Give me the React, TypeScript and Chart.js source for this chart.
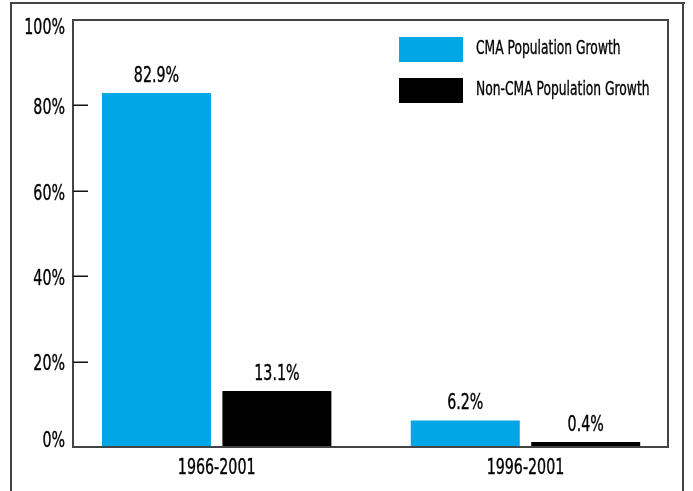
import React, { useEffect, useRef, useState } from 'react';
import { Chart, registerables } from 'chart.js';

Chart.register(...registerables);

const categories = ['1966-2001', '1996-2001'];
const seriesNames = ['CMA Population Growth', 'Non-CMA Population Growth'];
const cmaGrowth = [82.9, 6.2];
const nonCmaGrowth = [13.1, 0.4];
const yTickValues = [0, 20, 40, 60, 80, 100];
const seriesColors = ['#00A6E6', '#000000'];

const X_MIN = -0.4653;
const X_MAX = 1.4615;

const FONT = "'DejaVu Sans Condensed', 'DejaVu Sans', sans-serif";
const SQUEEZE = 0.72;
const TEXT = '#000000';
const FRAME = '#444444';

function drawNarrowText(
  ctx: CanvasRenderingContext2D,
  text: string,
  x: number,
  y: number,
  size: number,
  align: CanvasTextAlign
) {
  ctx.save();
  ctx.font = `${size}px ${FONT}`;
  ctx.textAlign = align;
  ctx.textBaseline = 'middle';
  ctx.fillStyle = TEXT;
  ctx.strokeStyle = TEXT;
  ctx.lineWidth = 0.35;
  ctx.scale(SQUEEZE, 1);
  ctx.fillText(text, x / SQUEEZE, y);
  ctx.strokeText(text, x / SQUEEZE, y);
  ctx.restore();
}

const decorPlugin = {
  id: 'decor',
  afterDraw(chart: any) {
    const ctx = chart.ctx as CanvasRenderingContext2D;
    const a = chart.chartArea;
    const yScale = chart.scales.y;
    const xScale = chart.scales.x;
    ctx.save();

    // outer frame (open at the bottom)
    ctx.fillStyle = FRAME;
    ctx.fillRect(10, 2, 675, 2);
    ctx.fillRect(10, 2, 2, chart.height);
    ctx.fillRect(682, 2, 2, chart.height);

    // plot frame
    ctx.strokeStyle = FRAME;
    ctx.lineWidth = 2;
    ctx.strokeRect(a.left, a.top, a.right - a.left, a.bottom - a.top);

    // inward tick marks
    ctx.strokeStyle = '#111';
    ctx.lineWidth = 1.5;
    yScale.ticks.forEach((t: any) => {
      if (t.value <= yScale.min || t.value >= yScale.max) return;
      const py = Math.round(yScale.getPixelForValue(t.value)) + 0.25;
      ctx.beginPath();
      ctx.moveTo(a.left, py);
      ctx.lineTo(a.left + 15, py);
      ctx.stroke();
    });
    ctx.restore();

    // y tick labels
    yScale.ticks.forEach((t: any) => {
      const py = yScale.getPixelForValue(t.value) + 3;
      const cy = Math.min(Math.max(py, a.top + 8), a.bottom - 6);
      drawNarrowText(ctx, `${t.value}%`, a.left - 8, cy, 22, 'right');
    });

    // x tick labels
    xScale.ticks.forEach((t: any) => {
      const px = xScale.getPixelForValue(t.value);
      drawNarrowText(ctx, categories[t.value], px, a.bottom + 21.5, 22, 'center');
    });

    // data labels
    chart.data.datasets.forEach((ds: any, di: number) => {
      const meta = chart.getDatasetMeta(di);
      meta.data.forEach((el: any, i: number) => {
        const v = ds.data[i].y;
        drawNarrowText(ctx, v.toFixed(1) + '%', el.x, el.y - 17, 22, 'center');
      });
    });

    // legend
    const lx = a.right - 269;
    const ly = a.top + 17;
    chart.data.datasets.forEach((ds: any, di: number) => {
      const top = ly + di * 41;
      ctx.save();
      ctx.fillStyle = ds.backgroundColor;
      ctx.fillRect(lx, top, 64, 25);
      ctx.restore();
      drawNarrowText(ctx, ds.label, lx + 77, top + 12, 19, 'left');
    });
  },
};

export default function App() {
  const ref = useRef<HTMLCanvasElement | null>(null);
  const [err, setErr] = useState('');

  useEffect(() => {
    if (!ref.current) return;
    let chart: any = null;
    try {
      chart = new Chart(ref.current, {
        type: 'bar',
        data: {
          datasets: [
            {
              label: seriesNames[0],
              data: cmaGrowth.map((v, i) => ({ x: i, y: v })),
              backgroundColor: seriesColors[0],
              borderWidth: 0,
              categoryPercentage: 0.78,
              barPercentage: 0.905,
            },
            {
              label: seriesNames[1],
              data: nonCmaGrowth.map((v, i) => ({ x: i, y: v })),
              backgroundColor: seriesColors[1],
              borderWidth: 0,
              categoryPercentage: 0.78,
              barPercentage: 0.905,
              minBarLength: 5,
            },
          ],
        },
        options: {
          responsive: false,
          animation: false,
          devicePixelRatio: 1,
          layout: { padding: { top: 20, right: 25, left: 0, bottom: 0 } },
          plugins: {
            legend: { display: false },
            tooltip: { enabled: false },
          },
          scales: {
            x: {
              type: 'linear',
              min: X_MIN,
              max: X_MAX,
              offset: false,
              grid: { display: false, drawTicks: false },
              border: { display: false },
              afterBuildTicks: (scale: any) => {
                scale.ticks = categories.map((_, i) => ({ value: i }));
              },
              afterFit: (scale: any) => {
                scale.height = 44;
              },
              ticks: {
                display: false,
                autoSkip: false,
                callback: (v: any) => categories[Number(v)] ?? '',
              },
            },
            y: {
              type: 'linear',
              min: yTickValues[0],
              max: yTickValues[yTickValues.length - 1],
              grid: { display: false, drawTicks: false },
              border: { display: false },
              afterBuildTicks: (scale: any) => {
                scale.ticks = yTickValues.map((v) => ({ value: v }));
              },
              afterFit: (scale: any) => {
                scale.width = 73;
              },
              ticks: {
                display: false,
                callback: (v: any) => `${v}%`,
              },
            },
          },
        },
        plugins: [decorPlugin],
      } as any);
    } catch (e: any) {
      setErr(String(e && e.stack ? e.stack : e));
    }
    return () => {
      if (chart) chart.destroy();
    };
  }, []);

  return (
    <div style={{ position: 'fixed', left: 0, top: 0, width: 693, height: 491, overflow: 'hidden' }}>
      <canvas ref={ref} width={693} height={491} style={{ display: 'block' }} />
      {err ? <pre style={{ position: 'absolute', left: 0, top: 0, fontSize: 10, color: 'red' }}>{err}</pre> : null}
    </div>
  );
}
